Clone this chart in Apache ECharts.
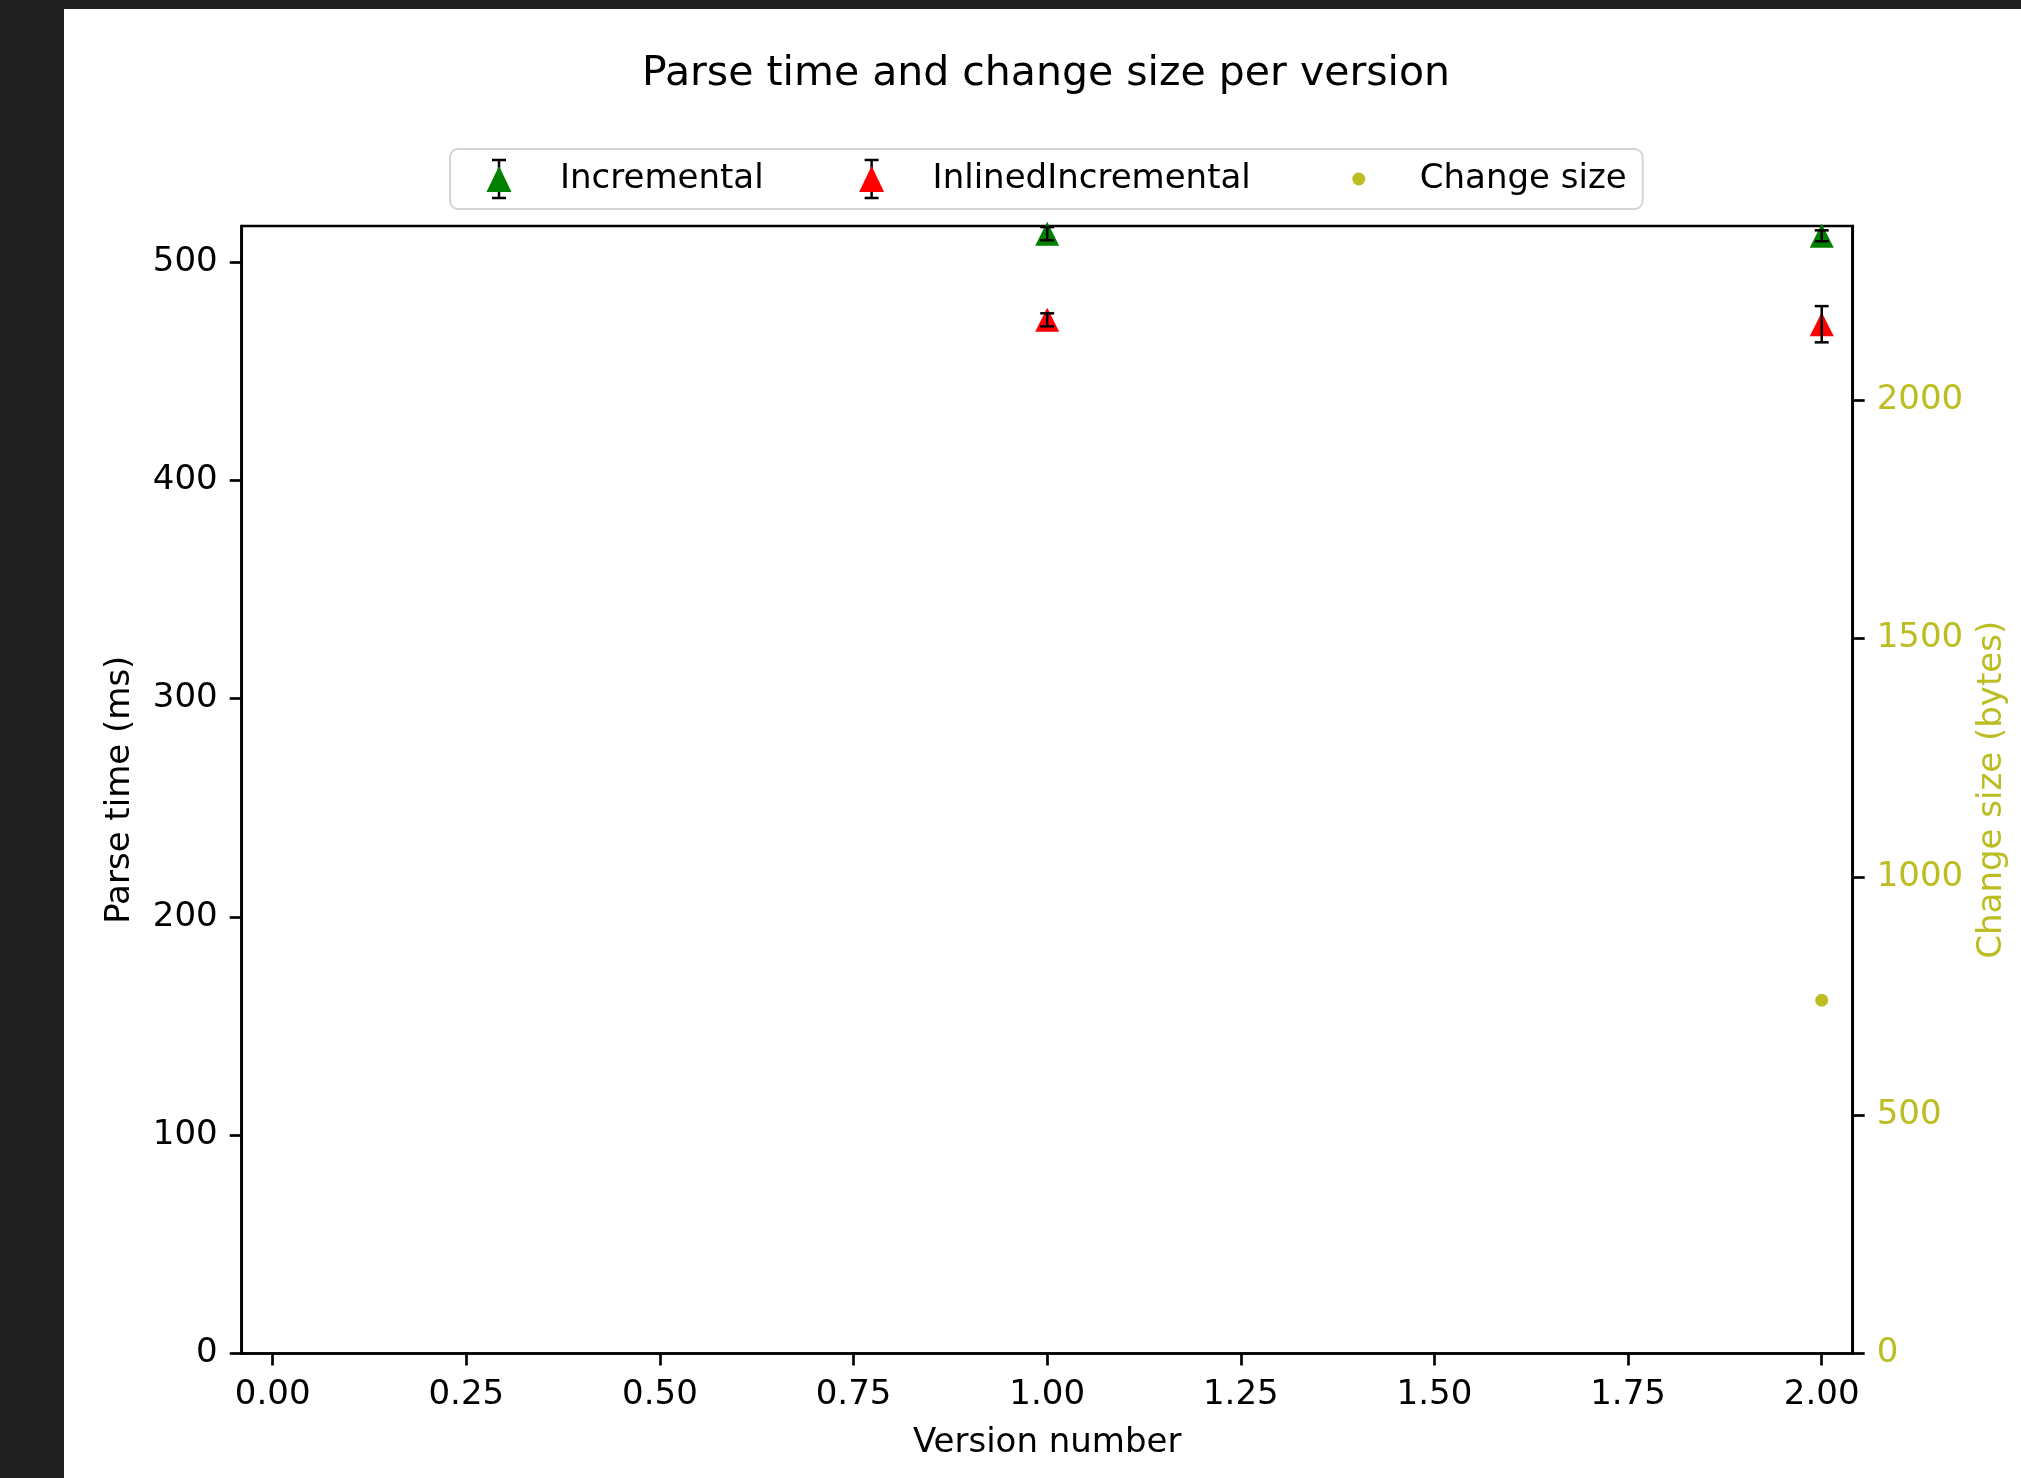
<!DOCTYPE html>
<html><head><meta charset="utf-8">
<script src="https://cdn.jsdelivr.net/npm/echarts@6/dist/echarts.min.js"></script>
<style>
html,body{margin:0;padding:0;background:#212121;width:2021px;height:1478px;overflow:hidden}
#chart{position:absolute;left:64px;top:9px;width:1957px;height:1469px;background:#fff}
</style></head><body><div id="chart"></div>
<script>
// ---- data ----
const versions = [1, 2];
const incrementalMean = [513, 512];
const incrementalErr = [3, 2.5];
const inlinedMean = [473.5, 471.5];
const inlinedErr = [3, 8.3];
const changeVersions = [2];
const changeSize = [741];
const xTicks = [0, 0.25, 0.5, 0.75, 1, 1.25, 1.5, 1.75, 2];
const leftTicks = [0, 100, 200, 300, 400, 500];
const rightTicks = [0, 500, 1000, 1500, 2000];

// ---- styling ----
const FONT = 'DejaVu Sans';
const GREEN = '#008000', RED = '#ff0000', OLIVE = '#bcbd22';
const LW = 2.7;

function svgIcon(inner) {
  const svg = '<svg xmlns="http://www.w3.org/2000/svg" width="90" height="44" viewBox="0 0 90 44">' + inner + '</svg>';
  return 'image://data:image/svg+xml;charset=utf-8,' + encodeURIComponent(svg);
}
function triIcon(color) {
  return svgIcon(
    '<line x1="34" y1="3" x2="34" y2="41" stroke="#000" stroke-width="2.5"/>' +
    '<line x1="27" y1="3" x2="41" y2="3" stroke="#000" stroke-width="2.5"/>' +
    '<line x1="27" y1="41" x2="41" y2="41" stroke="#000" stroke-width="2.5"/>' +
    '<polygon points="34,9 21.5,35 46.5,35" fill="' + color + '"/>'
  );
}
const dotIcon = svgIcon('<circle cx="34" cy="22" r="6.5" fill="' + OLIVE + '"/>');

function errRender(params, api) {
  const x = api.value(0), lo = api.value(1), hi = api.value(2);
  const pLo = api.coord([x, lo]), pHi = api.coord([x, hi]);
  const cw = 7;
  const style = { stroke: '#000', lineWidth: 2.5 };
  return { type: 'group', children: [
    { type: 'line', shape: { x1: pLo[0], y1: pLo[1], x2: pHi[0], y2: pHi[1] }, style: style },
    { type: 'line', shape: { x1: pLo[0] - cw, y1: pLo[1], x2: pLo[0] + cw, y2: pLo[1] }, style: style },
    { type: 'line', shape: { x1: pHi[0] - cw, y1: pHi[1], x2: pHi[0] + cw, y2: pHi[1] }, style: style }
  ]};
}

const axisCommon = {
  axisLine: { show: true, onZero: false, lineStyle: { color: '#000', width: LW } },
  axisTick: { show: true, inside: false, length: 12, lineStyle: { color: '#000', width: LW } },
  splitLine: { show: false },
  nameLocation: 'middle',
  nameTextStyle: { fontFamily: FONT, fontSize: 34, color: '#000' }
};

const chart = echarts.init(document.getElementById('chart'), null, { renderer: 'canvas' });
chart.setOption({
  animation: false,
  backgroundColor: '#ffffff',
  textStyle: { fontFamily: FONT },
  title: {
    text: 'Parse time and change size per version',
    left: 578, top: 45, padding: 0,
    textStyle: { fontFamily: FONT, fontSize: 41, fontWeight: 'normal', color: '#000', lineHeight: 41 }
  },
  legend: {
    left: 386, top: 140, orient: 'horizontal',
    padding: [8, 16, 8, 15], itemGap: 74, itemWidth: 90, itemHeight: 44,
    backgroundColor: 'rgba(255,255,255,0.8)', borderColor: '#d4d4d4', borderWidth: 2, borderRadius: 8,
    selectedMode: false,
    textStyle: { fontFamily: FONT, fontSize: 34, color: '#000' },
    data: [
      { name: 'Incremental', icon: triIcon(GREEN) },
      { name: 'InlinedIncremental', icon: triIcon(RED) },
      { name: 'Change size', icon: dotIcon }
    ]
  },
  grid: {
    show: true, borderColor: '#000', borderWidth: LW, backgroundColor: '#fff',
    left: 177.7, right: 168.3, top: 217, bottom: 124.5,
    containLabel: false, outerBoundsMode: 'none'
  },
  xAxis: Object.assign({}, axisCommon, {
    type: 'value', min: -0.04, max: 2.04,
    name: 'Version number', nameGap: 73,
    axisTick: Object.assign({}, axisCommon.axisTick, { customValues: xTicks }),
    axisLabel: { customValues: xTicks, formatter: v => v.toFixed(2), fontFamily: FONT, fontSize: 34, color: '#000', margin: 25 }
  }),
  yAxis: [
    Object.assign({}, axisCommon, {
      type: 'value', position: 'left', min: 0, max: 516.5,
      name: 'Parse time (ms)', nameGap: 105, nameRotate: 90,
      axisTick: Object.assign({}, axisCommon.axisTick, { customValues: leftTicks }),
      axisLabel: { customValues: leftTicks, formatter: v => String(v), fontFamily: FONT, fontSize: 34, color: '#000', margin: 24 }
    }),
    Object.assign({}, axisCommon, {
      type: 'value', position: 'right', min: 0, max: 2365,
      name: 'Change size (bytes)', nameGap: 122, nameRotate: 90,
      nameTextStyle: { fontFamily: FONT, fontSize: 34, color: OLIVE },
      axisTick: Object.assign({}, axisCommon.axisTick, { customValues: rightTicks }),
      axisLabel: { customValues: rightTicks, formatter: v => String(v), fontFamily: FONT, fontSize: 34, color: OLIVE, margin: 24 }
    })
  ],
  series: [
    {
      name: 'Incremental', type: 'scatter', xAxisIndex: 0, yAxisIndex: 0, clip: false,
      symbol: 'triangle', symbolSize: 24, itemStyle: { color: GREEN, opacity: 1 }, z: 2,
      data: versions.map((v, i) => [v, incrementalMean[i]])
    },
    {
      name: 'InlinedIncremental', type: 'scatter', xAxisIndex: 0, yAxisIndex: 0, clip: false,
      symbol: 'triangle', symbolSize: 24, itemStyle: { color: RED, opacity: 1 }, z: 2,
      data: versions.map((v, i) => [v, inlinedMean[i]])
    },
    {
      name: 'Incremental err', type: 'custom', xAxisIndex: 0, yAxisIndex: 0, clip: false, z: 3,
      renderItem: errRender, encode: { x: 0, y: [1, 2] },
      data: versions.map((v, i) => [v, incrementalMean[i] - incrementalErr[i], incrementalMean[i] + incrementalErr[i]])
    },
    {
      name: 'InlinedIncremental err', type: 'custom', xAxisIndex: 0, yAxisIndex: 0, clip: false, z: 3,
      renderItem: errRender, encode: { x: 0, y: [1, 2] },
      data: versions.map((v, i) => [v, inlinedMean[i] - inlinedErr[i], inlinedMean[i] + inlinedErr[i]])
    },
    {
      name: 'Change size', type: 'scatter', xAxisIndex: 0, yAxisIndex: 1, clip: false,
      symbol: 'circle', symbolSize: 13, itemStyle: { color: OLIVE, opacity: 1 }, z: 2,
      data: changeVersions.map((v, i) => [v, changeSize[i]])
    }
  ]
});
</script></body></html>
